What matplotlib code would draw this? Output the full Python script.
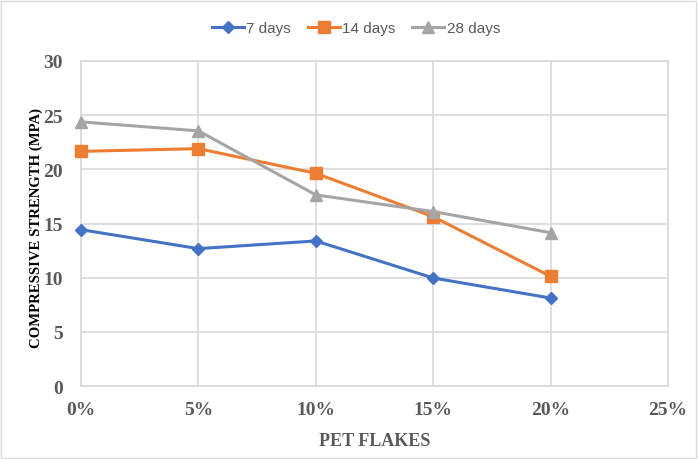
import matplotlib
matplotlib.use("Agg")
import matplotlib.pyplot as plt
from matplotlib.patches import Rectangle
from matplotlib.ticker import FuncFormatter

# Compressive strength of concrete vs. PET flake replacement
pet_pct = [0, 5, 10, 15, 20]
days7 = [14.43, 12.68, 13.39, 9.97, 8.12]
days14 = [21.66, 21.91, 19.63, 15.63, 10.12]
days28 = [24.38, 23.55, 17.64, 16.10, 14.15]
series_labels = ["7 days", "14 days", "28 days"]
x_ticks = [0, 5, 10, 15, 20, 25]
y_ticks = [0, 5, 10, 15, 20, 25, 30]

W, H = 698, 460
fig = plt.figure(figsize=(W / 100, H / 100), dpi=100)
ax = fig.add_axes([81 / W, 1 - 387 / H, (668 - 81) / W, (387 - 62) / H])

grid_c = "#D9D9D9"
text_c = "#595959"
serif = ["Liberation Serif", "DejaVu Serif"]

styles = [
    dict(color="#4472C4", marker="D", markersize=6),
    dict(color="#ED7D31", marker="s", markersize=8.5),
    dict(color="#A5A5A5", marker="^", markersize=8.5),
]
for vals, lab, st in zip([days7, days14, days28], series_labels, styles):
    ax.plot(pet_pct, vals, label=lab, linewidth=2.2, clip_on=False, zorder=3, **st)

ax.set_xlim(0, 25)
ax.set_ylim(0, 30)
ax.set_xticks(x_ticks)
ax.set_yticks(y_ticks)
ax.xaxis.set_major_formatter(FuncFormatter(lambda v, p: f"{int(v)}%"))
ax.grid(True, color=grid_c, linewidth=1.2, zorder=0)
ax.set_axisbelow(True)
for s in ax.spines.values():
    s.set_color(grid_c)
    s.set_linewidth(1.2)
ax.tick_params(length=0, labelcolor=text_c)
for lbl in ax.get_xticklabels() + ax.get_yticklabels():
    lbl.set_fontfamily(serif)
    lbl.set_fontweight("bold")
    lbl.set_fontsize(14)
ax.tick_params(axis="x", pad=11)
ax.tick_params(axis="y", pad=13)

ax.set_xlabel("PET FLAKES", fontfamily=serif, fontweight="bold", fontsize=13,
              color=text_c)
ax.xaxis.set_label_coords(0.5, -(433 - 387) / 325, transform=ax.transAxes)
ax.set_ylabel("COMPRESSIVE STRENGTH (MPA)", fontfamily=serif, fontweight="bold",
              fontsize=10.6, color="#000000")
ax.yaxis.set_label_coords((43 - 81) / 587, 0.49, transform=ax.transAxes)

leg = fig.legend(loc="center", bbox_to_anchor=(356 / W, 1 - 29 / H), ncol=3,
                 frameon=False, handlelength=2.1, columnspacing=1.1,
                 handletextpad=0.15, prop={"family": "Liberation Sans", "size": 11})
for t in leg.get_texts():
    t.set_color(text_c)

# light frame around the whole chart
fig.patches.append(Rectangle((1 / W, 1 / H), (W - 3) / W, (H - 3) / H,
                             transform=fig.transFigure, fill=False,
                             edgecolor="#D9D9D9", linewidth=1.0))

fig.savefig("out.png", dpi=100)
